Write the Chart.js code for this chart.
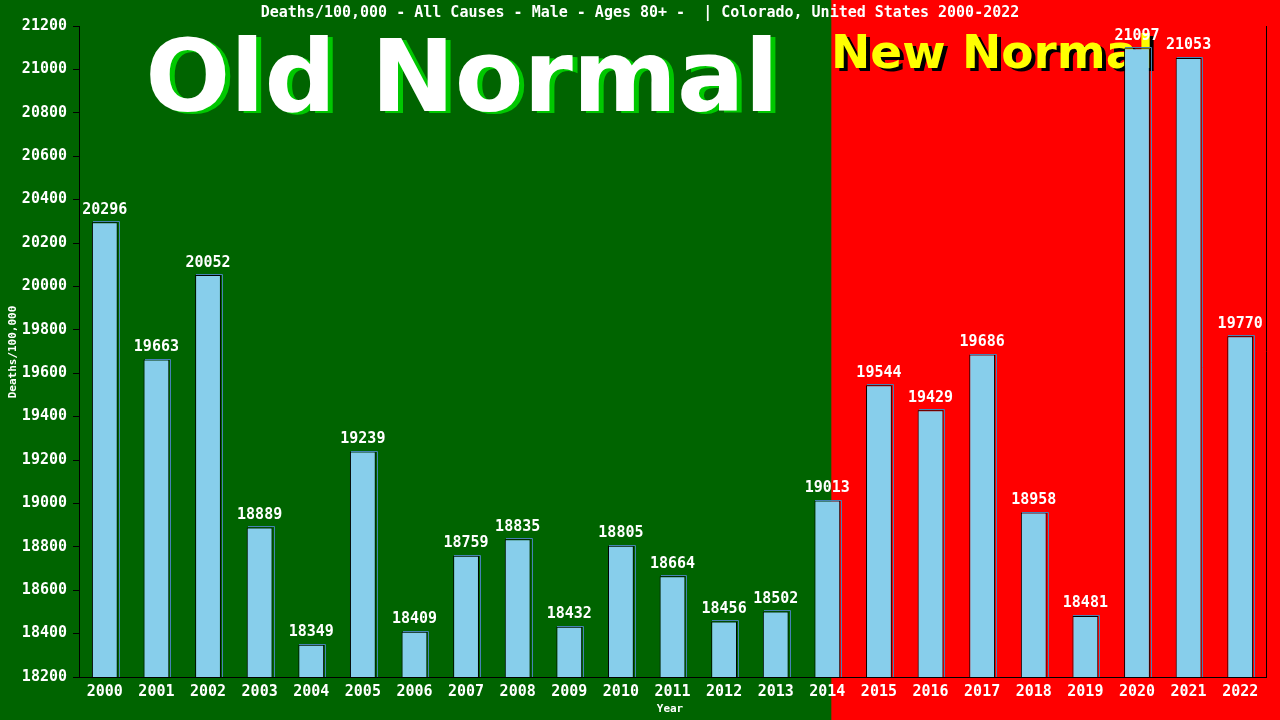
<!DOCTYPE html>
<html><head><meta charset="utf-8">
<script src="https://cdn.jsdelivr.net/npm/chart.js@4"></script>
<style>html,body{margin:0;padding:0;background:#006400;}#c{display:block;}</style>
</head><body>
<canvas id="c" width="1280" height="720"></canvas>
<script>
const years = ["2000","2001","2002","2003","2004","2005","2006","2007","2008","2009","2010","2011","2012","2013","2014","2015","2016","2017","2018","2019","2020","2021","2022"];
const deaths = [20296,19663,20052,18889,18349,19239,18409,18759,18835,18432,18805,18664,18456,18502,19013,19544,19429,19686,18958,18481,21097,21053,19770];
const yMin = 18200, yMax = 21200, yStep = 200;
const titleText = "Deaths/100,000 - All Causes - Male - Ages 80+ -  | Colorado, United States 2000-2022";
const splitIndex = 14;

const MONO = '"DejaVu Sans Mono", "Liberation Mono", monospace';

const bgPlugin = {
  id: 'bg',
  beforeDraw(chart) {
    const {ctx, width, height} = chart;
    const xs = chart.scales.x;
    const split = xs.getPixelForValue(splitIndex) + 4;
    ctx.save();
    ctx.fillStyle = '#006400';
    ctx.fillRect(0, 0, split, height);
    ctx.fillStyle = '#ff0000';
    ctx.fillRect(split, 0, width - split, height);
    ctx.restore();
  },
  beforeDatasetsDraw(chart) {
    const {ctx} = chart;
    ctx.save();
    ctx.font = 'bold 100px "DejaVu Sans", sans-serif';
    ctx.textAlign = 'center';
    ctx.textBaseline = 'alphabetic';
    ctx.fillStyle = '#00c800';
    ctx.fillText('Old Normal', 467, 113);
    ctx.fillStyle = '#ffffff';
    ctx.fillText('Old Normal', 462, 111);
    ctx.font = 'bold 47px "DejaVu Sans", sans-serif';
    ctx.textAlign = 'left';
    ctx.fillStyle = '#000000';
    ctx.fillText('New Normal', 835, 71);
    ctx.fillStyle = '#ffff00';
    ctx.fillText('New Normal', 831, 68);
    ctx.restore();
  },
  afterDatasetsDraw(chart) {
    const {ctx, chartArea} = chart;
    const meta = chart.getDatasetMeta(0);
    ctx.save();
    ctx.strokeStyle = '#4682b4';
    ctx.lineWidth = 1;
    meta.data.forEach((bar) => {
      const right = Math.round(bar.x + bar.width / 2);
      const left = Math.round(bar.x - bar.width / 2);
      const top = Math.round(bar.y);
      ctx.beginPath();
      ctx.moveTo(left + 1, top - 0.5);
      ctx.lineTo(right + 1.5, top - 0.5);
      ctx.lineTo(right + 1.5, chartArea.bottom);
      ctx.stroke();
    });
    ctx.restore();
  },
  afterDraw(chart) {
    const {ctx, chartArea} = chart;
    ctx.save();
    ctx.strokeStyle = '#000';
    ctx.lineWidth = 1;
    ctx.beginPath();
    ctx.moveTo(chartArea.right + 0.5, chartArea.top);
    ctx.lineTo(chartArea.right + 0.5, chartArea.bottom);
    ctx.stroke();
    ctx.fillStyle = '#fff';
    ctx.font = 'bold 15px ' + MONO;
    ctx.textAlign = 'center';
    ctx.textBaseline = 'middle';
    ctx.fillText(titleText, 640, 13);
    ctx.font = 'bold 11px ' + MONO;
    ctx.fillText('Year', 670, 709);
    ctx.translate(13, 352);
    ctx.rotate(-Math.PI / 2);
    ctx.fillText('Deaths/100,000', 0, 0);
    ctx.restore();
    ctx.save();
    ctx.fillStyle = '#fff';
    ctx.font = 'bold 15px ' + MONO;
    ctx.textAlign = 'center';
    ctx.textBaseline = 'bottom';
    const meta = chart.getDatasetMeta(0);
    meta.data.forEach((bar, i) => {
      ctx.fillText(String(deaths[i]), bar.x, bar.y - 5);
    });
    ctx.restore();
  }
};

new Chart(document.getElementById('c'), {
  type: 'bar',
  data: {
    labels: years,
    datasets: [{
      data: deaths,
      backgroundColor: '#87ceeb',
      borderColor: '#000000',
      borderWidth: {left: 1, top: 1, right: 1, bottom: 0},
      borderSkipped: 'bottom',
      barPercentage: 0.5,
      categoryPercentage: 1.0
    }]
  },
  plugins: [bgPlugin],
  options: {
    responsive: false,
    animation: false,
    devicePixelRatio: 1,
    layout: {padding: {top: 26, right: 14, left: 0, bottom: 0}},
    plugins: {legend: {display: false}, tooltip: {enabled: false}, title: {display: false}},
    scales: {
      x: {
        grid: {display: false, drawTicks: false},
        border: {display: true, color: '#000', width: 1},
        ticks: {color: '#fff', font: {family: MONO, size: 15, weight: 'bold'}, padding: 6, maxRotation: 0, autoSkip: false},
        afterFit(s) { s.height = 43; }
      },
      y: {
        min: yMin, max: yMax,
        grid: {display: true, drawOnChartArea: false, drawTicks: true, tickLength: 6, color: '#000'},
        border: {display: true, color: '#000', width: 1},
        ticks: {stepSize: yStep, color: '#fff', font: {family: MONO, size: 15, weight: 'bold'}, padding: 6, callback: v => String(v)},
        afterFit(s) { s.width = 79; }
      }
    }
  }
});
</script>
</body></html>
